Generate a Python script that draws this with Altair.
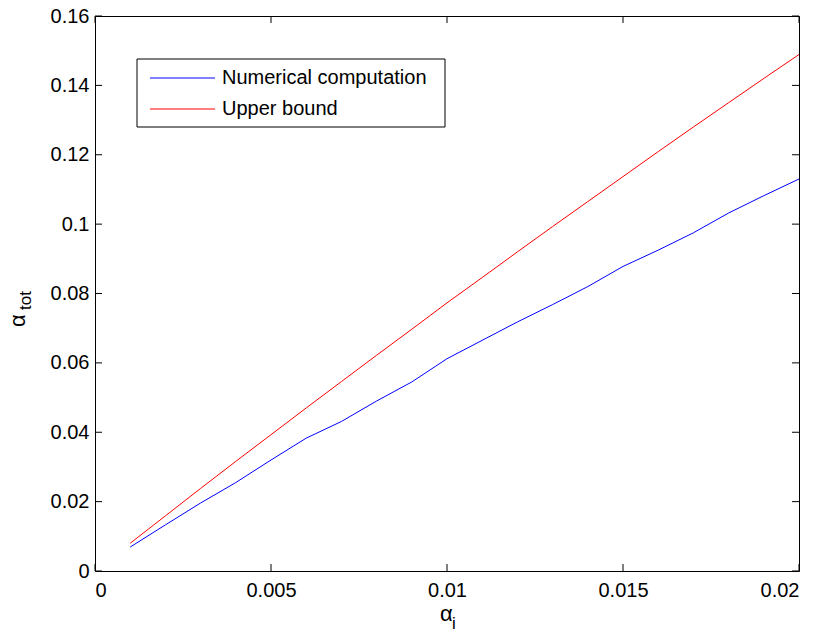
import altair as alt
import pandas as pd

# Per-user false-alarm level alpha_i and the resulting total level alpha_tot
alpha_i = [0.001, 0.002, 0.003, 0.004, 0.005, 0.006, 0.007, 0.008, 0.009, 0.010,
           0.011, 0.012, 0.013, 0.014, 0.015, 0.016, 0.017, 0.018, 0.019, 0.020]
numerical = [0.0069, 0.0133, 0.0196, 0.0255, 0.0320, 0.0383, 0.0431, 0.0490, 0.0545, 0.0612,
             0.0665, 0.0718, 0.0768, 0.0820, 0.0878, 0.0925, 0.0975, 0.1032, 0.1082, 0.1130]
upper = [0.0080, 0.0159, 0.0238, 0.0316, 0.0393, 0.0470, 0.0546, 0.0622, 0.0697, 0.0773,
         0.0846, 0.0920, 0.0993, 0.1065, 0.1137, 0.1209, 0.1280, 0.1350, 0.1420, 0.1489]

series_names = ["Numerical computation", "Upper bound"]
series_colors = ["#0000ff", "#ff0000"]

x_ticks = [0, 0.005, 0.01, 0.015, 0.02]
y_ticks = [0, 0.02, 0.04, 0.06, 0.08, 0.1, 0.12, 0.14, 0.16]

W, H = 704, 555
FONT = "Liberation Sans"
TICK = 7

df = pd.concat([
    pd.DataFrame({"alpha_i": alpha_i, "alpha_tot": numerical, "series": series_names[0]}),
    pd.DataFrame({"alpha_i": alpha_i, "alpha_tot": upper, "series": series_names[1]}),
])

xscale = alt.Scale(domain=[0, 0.02], nice=False)
yscale = alt.Scale(domain=[0, 0.16], nice=False)

lines = alt.Chart(df).mark_line(strokeWidth=1).encode(
    x=alt.X("alpha_i:Q", scale=xscale,
            axis=alt.Axis(values=x_ticks, format="~g", ticks=False, grid=False, domain=False,
                          labelFontSize=20, labelFont=FONT, labelColor="black",
                          labelPadding=9, title=None)),
    y=alt.Y("alpha_tot:Q", scale=yscale,
            axis=alt.Axis(values=y_ticks, format="~g", ticks=False, grid=False, domain=False,
                          labelFontSize=20, labelFont=FONT, labelColor="black",
                          labelPadding=6, title=None)),
    color=alt.Color("series:N", scale=alt.Scale(domain=series_names, range=series_colors),
                    legend=None),
    detail="series:N",
)

# Inward ticks on all four sides of the box
xt = pd.DataFrame({"v": x_ticks})
yt = pd.DataFrame({"v": y_ticks})
tick_style = dict(color="black", strokeWidth=1)
xt_bottom = alt.Chart(xt).mark_rule(**tick_style).encode(
    x=alt.X("v:Q", scale=xscale), y=alt.value(H), y2=alt.value(H - TICK))
xt_top = alt.Chart(xt).mark_rule(**tick_style).encode(
    x=alt.X("v:Q", scale=xscale), y=alt.value(0), y2=alt.value(TICK))
yt_left = alt.Chart(yt).mark_rule(**tick_style).encode(
    y=alt.Y("v:Q", scale=yscale), x=alt.value(0), x2=alt.value(TICK))
yt_right = alt.Chart(yt).mark_rule(**tick_style).encode(
    y=alt.Y("v:Q", scale=yscale), x=alt.value(W), x2=alt.value(W - TICK))

# Axis titles: alpha with subscripts
base = alt.Chart(pd.DataFrame({"k": [0]}))
x_title = base.mark_text(text="α", font=FONT, fontSize=22, align="left",
                         baseline="alphabetic", color="black").encode(
    x=alt.value(345), y=alt.value(605))
x_sub = base.mark_text(text="i", font=FONT, fontSize=17, align="left",
                       baseline="alphabetic", color="black").encode(
    x=alt.value(357), y=alt.value(613))
y_title = base.mark_text(text="α", font=FONT, fontSize=22, align="left",
                         baseline="alphabetic", angle=270, color="black").encode(
    x=alt.value(-70), y=alt.value(311))
y_sub = base.mark_text(text="tot", font=FONT, fontSize=17, align="left",
                       baseline="alphabetic", angle=270, color="black").encode(
    x=alt.value(-64), y=alt.value(294))

# Legend box
legend_box = base.mark_rect(fill="white", stroke="black", strokeWidth=1).encode(
    x=alt.value(42), x2=alt.value(350), y=alt.value(43), y2=alt.value(111))
legend_layers = [legend_box]
for i, (name, col) in enumerate(zip(series_names, series_colors)):
    row_y = 62 + 31 * i
    legend_layers.append(base.mark_rule(color=col, strokeWidth=1).encode(
        x=alt.value(55), x2=alt.value(120), y=alt.value(row_y)))
    legend_layers.append(base.mark_text(text=name, font=FONT, fontSize=20, align="left",
                                        baseline="middle", color="black").encode(
        x=alt.value(127), y=alt.value(row_y)))

chart = alt.layer(
    lines, xt_bottom, xt_top, yt_left, yt_right,
    x_title, x_sub, y_title, y_sub, *legend_layers
).properties(
    width=W, height=H,
    autosize=alt.AutoSizeParams(type="none"),
    padding={"left": 95, "top": 16, "right": 23, "bottom": 63},
    background="white",
).configure_view(stroke="black", strokeWidth=1)

chart.save("out.html", embed_options={"renderer": "svg", "actions": False})
